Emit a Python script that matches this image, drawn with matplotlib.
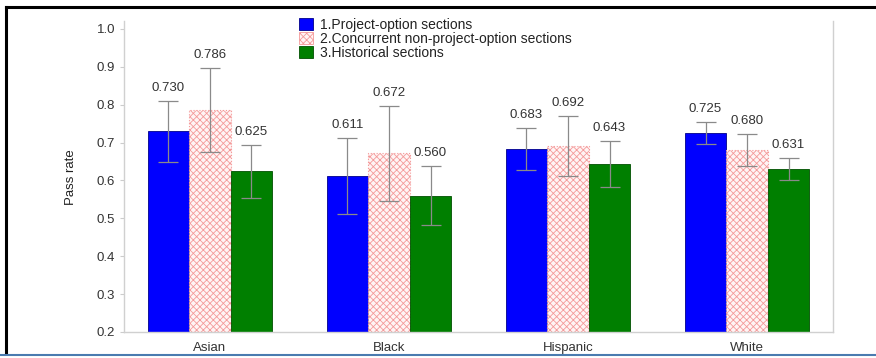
import matplotlib
matplotlib.use("Agg")
import matplotlib.pyplot as plt
import numpy as np
from matplotlib.lines import Line2D
from matplotlib.patches import Patch

categories = ["Asian", "Black", "Hispanic", "White"]
series_names = ["1.Project-option sections",
                "2.Concurrent non-project-option sections",
                "3.Historical sections"]
project = [0.730, 0.611, 0.683, 0.725]
concurrent = [0.786, 0.672, 0.692, 0.680]
historical = [0.625, 0.560, 0.643, 0.631]
project_err = [0.080, 0.100, 0.056, 0.029]
concurrent_err = [0.110, 0.125, 0.079, 0.042]
historical_err = [0.070, 0.078, 0.061, 0.029]
yticks = [0.2, 0.3, 0.4, 0.5, 0.6, 0.7, 0.8, 0.9, 1.0]

plt.rcParams['font.family'] = ['Liberation Sans', 'DejaVu Sans']
plt.rcParams['hatch.linewidth'] = 0.6

fig = plt.figure(figsize=(8.76, 3.58), dpi=100)
ax = fig.add_axes([124/876, 1-332/358, (833-124)/876, (332-21.4)/358])

x = np.arange(len(categories))
w = 0.232
err_kw = dict(ecolor='#8a8a8a', elinewidth=0.9, capsize=7.5, capthick=0.9)

vals = [project, concurrent, historical]
errs = [project_err, concurrent_err, historical_err]
offsets = [-w, 0, w]

ax.bar(x - w, project, w, color='#0000ff', edgecolor='#00008a',
       linewidth=0.6, yerr=project_err, error_kw=err_kw, zorder=2)
ax.bar(x, concurrent, w, color='#fff4f4', edgecolor='#f49a9a', hatch='xxxxx',
       linewidth=0.8, linestyle=':', yerr=concurrent_err, error_kw=err_kw, zorder=2)
ax.bar(x + w, historical, w, color='#007f00', edgecolor='#005000',
       linewidth=0.6, yerr=historical_err, error_kw=err_kw, zorder=2)

for v, e, off in zip(vals, errs, offsets):
    for xi, vi, ei in zip(x, v, e):
        ax.annotate(f"{vi:.3f}", (xi + off, vi + ei), xytext=(0, 5),
                    textcoords='offset points', ha='center', va='bottom',
                    fontsize=9.5, color='#333333')

ax.set_xlim(-0.48, 3.48)
ax.set_ylim(0.2, 1.02)
ax.set_yticks(yticks)
ax.set_yticklabels([f"{t:.1f}" for t in yticks])
ax.set_xticks(x)
ax.set_xticklabels(categories)
ax.tick_params(axis='both', labelsize=9.5, colors='#cccccc', labelcolor='#333333', length=3)
ax.tick_params(axis='x', length=0, pad=7)
ax.set_ylabel("Pass rate", fontsize=9.5, color='#222222', labelpad=14)

ax.spines['top'].set_visible(False)
for s in ['left', 'right', 'bottom']:
    ax.spines[s].set_color('#d0d0d0')
    ax.spines[s].set_linewidth(1.0)

handles = [Patch(facecolor='#0000ff', edgecolor='#00008a', linewidth=0.6),
           Patch(facecolor='#fff4f4', edgecolor='#f49a9a', hatch='xxxxx', linewidth=0.6),
           Patch(facecolor='#007f00', edgecolor='#005000', linewidth=0.6)]
leg = fig.legend(handles, series_names, loc='upper left', bbox_to_anchor=(299/876, 1-18/358),
                 frameon=False, fontsize=10, handlelength=1.0, handleheight=1.0,
                 handletextpad=0.5, labelspacing=0.0, borderaxespad=0, borderpad=0)
for t in leg.get_texts():
    t.set_color('#222222')

# figure border lines
fig.add_artist(Line2D([6/876, 6/876], [1-7/358, 1-352/358], color='black', linewidth=2.2,
                      transform=fig.transFigure))
fig.add_artist(Line2D([6/876, 1.0], [1-7/358, 1-7/358], color='black', linewidth=2.2,
                      transform=fig.transFigure))
fig.add_artist(Line2D([0, 1.0], [1-355/358, 1-355/358], color='#4a7bb0', linewidth=1.5,
                      transform=fig.transFigure))

fig.savefig("out.png", dpi=100)
